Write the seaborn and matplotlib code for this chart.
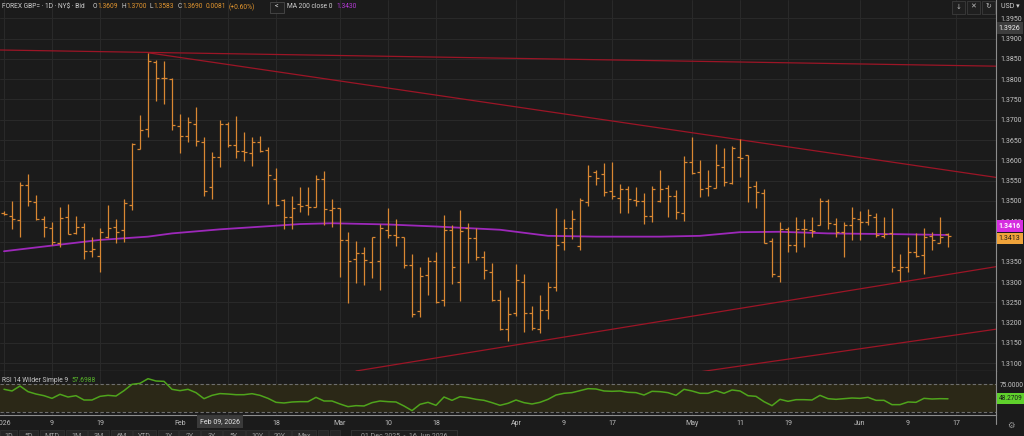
import numpy as np
import pandas as pd
import matplotlib
matplotlib.use("Agg")
import matplotlib.pyplot as plt
from matplotlib.lines import Line2D
from matplotlib.patches import Rectangle
import seaborn as sns

# GBP= daily bars, 1 Jan 2026 - 16 Jun 2026 (weekdays)
dates = pd.bdate_range("2026-01-01", "2026-06-16")

opens = [1.3471, 1.3463, 1.3452, 1.3539, 1.3497, 1.3455, 1.3433, 1.3396, 1.3460, 1.3420,
         1.3435, 1.3376, 1.3364, 1.3412, 1.3435, 1.3428, 1.3491, 1.3627, 1.3678, 1.3842,
         1.3802, 1.3800, 1.3685, 1.3661, 1.3690, 1.3645, 1.3534, 1.3609, 1.3689, 1.3637,
         1.3622, 1.3617, 1.3645, 1.3626, 1.3553, 1.3502, 1.3460, 1.3493, 1.3490, 1.3484,
         1.3553, 1.3478, 1.3482, 1.3403, 1.3356, 1.3371, 1.3349, 1.3353, 1.3428, 1.3415,
         1.3410, 1.3341, 1.3228, 1.3317, 1.3353, 1.3255, 1.3428, 1.3300, 1.3433, 1.3408,
         1.3361, 1.3324, 1.3256, 1.3184, 1.3225, 1.3300, 1.3225, 1.3184, 1.3231, 1.3289,
         1.3398, 1.3433, 1.3388, 1.3497, 1.3571, 1.3566, 1.3525, 1.3508, 1.3529, 1.3502,
         1.3500, 1.3463, 1.3499, 1.3533, 1.3512, 1.3470, 1.3597, 1.3572, 1.3531, 1.3533,
         1.3583, 1.3545, 1.3608, 1.3612, 1.3537, 1.3519, 1.3401, 1.3315, 1.3430, 1.3392,
         1.3430, 1.3428, 1.3441, 1.3500, 1.3443, 1.3424, 1.3441, 1.3456, 1.3449, 1.3460,
         1.3414, 1.3422, 1.3330, 1.3337, 1.3375, 1.3366, 1.3414, 1.3397, 1.3419]
highs = [1.3474, 1.3500, 1.3546, 1.3566, 1.3515, 1.3464, 1.3448, 1.3484, 1.3493, 1.3463,
         1.3445, 1.3412, 1.3433, 1.3490, 1.3456, 1.3504, 1.3642, 1.3711, 1.3865, 1.3847,
         1.3845, 1.3803, 1.3714, 1.3706, 1.3731, 1.3657, 1.3620, 1.3700, 1.3695, 1.3710,
         1.3669, 1.3657, 1.3661, 1.3632, 1.3580, 1.3504, 1.3513, 1.3534, 1.3534, 1.3564,
         1.3574, 1.3505, 1.3483, 1.3424, 1.3402, 1.3386, 1.3412, 1.3443, 1.3482, 1.3456,
         1.3410, 1.3369, 1.3338, 1.3363, 1.3373, 1.3465, 1.3441, 1.3478, 1.3445, 1.3434,
         1.3377, 1.3347, 1.3281, 1.3264, 1.3345, 1.3320, 1.3241, 1.3268, 1.3300, 1.3482,
         1.3456, 1.3478, 1.3507, 1.3589, 1.3576, 1.3594, 1.3597, 1.3542, 1.3537, 1.3534,
         1.3519, 1.3537, 1.3575, 1.3539, 1.3527, 1.3611, 1.3657, 1.3601, 1.3576, 1.3640,
         1.3630, 1.3635, 1.3652, 1.3613, 1.3549, 1.3530, 1.3408, 1.3448, 1.3435, 1.3460,
         1.3455, 1.3461, 1.3507, 1.3505, 1.3457, 1.3449, 1.3484, 1.3475, 1.3480, 1.3470,
         1.3460, 1.3482, 1.3369, 1.3410, 1.3422, 1.3433, 1.3424, 1.3460, 1.3422]
lows = [1.3466, 1.3430, 1.3411, 1.3488, 1.3452, 1.3412, 1.3391, 1.3386, 1.3418, 1.3418,
        1.3358, 1.3363, 1.3326, 1.3408, 1.3397, 1.3400, 1.3478, 1.3627, 1.3658, 1.3746,
        1.3738, 1.3675, 1.3619, 1.3645, 1.3636, 1.3513, 1.3505, 1.3583, 1.3634, 1.3605,
        1.3599, 1.3586, 1.3620, 1.3493, 1.3488, 1.3430, 1.3431, 1.3472, 1.3465, 1.3484,
        1.3441, 1.3435, 1.3312, 1.3249, 1.3299, 1.3294, 1.3309, 1.3281, 1.3408, 1.3389,
        1.3334, 1.3215, 1.3215, 1.3268, 1.3248, 1.3241, 1.3295, 1.3254, 1.3348, 1.3355,
        1.3307, 1.3254, 1.3182, 1.3156, 1.3217, 1.3178, 1.3182, 1.3174, 1.3209, 1.3279,
        1.3378, 1.3406, 1.3378, 1.3488, 1.3539, 1.3513, 1.3504, 1.3470, 1.3471, 1.3488,
        1.3443, 1.3449, 1.3498, 1.3460, 1.3455, 1.3451, 1.3566, 1.3509, 1.3511, 1.3531,
        1.3537, 1.3542, 1.3558, 1.3498, 1.3482, 1.3396, 1.3312, 1.3300, 1.3373, 1.3373,
        1.3387, 1.3411, 1.3441, 1.3430, 1.3412, 1.3363, 1.3404, 1.3404, 1.3441, 1.3411,
        1.3408, 1.3326, 1.3303, 1.3326, 1.3361, 1.3320, 1.3379, 1.3396, 1.3387]
closes = [1.3469, 1.3455, 1.3539, 1.3499, 1.3455, 1.3435, 1.3398, 1.3457, 1.3419, 1.3435,
          1.3376, 1.3381, 1.3423, 1.3433, 1.3424, 1.3496, 1.3640, 1.3675, 1.3844, 1.3802,
          1.3802, 1.3687, 1.3661, 1.3695, 1.3648, 1.3525, 1.3608, 1.3690, 1.3637, 1.3622,
          1.3621, 1.3646, 1.3624, 1.3565, 1.3490, 1.3460, 1.3482, 1.3488, 1.3484, 1.3553,
          1.3480, 1.3482, 1.3404, 1.3353, 1.3371, 1.3355, 1.3410, 1.3433, 1.3415, 1.3410,
          1.3341, 1.3221, 1.3314, 1.3353, 1.3252, 1.3428, 1.3337, 1.3427, 1.3408, 1.3361,
          1.3330, 1.3256, 1.3184, 1.3221, 1.3304, 1.3223, 1.3188, 1.3231, 1.3289, 1.3392,
          1.3433, 1.3456, 1.3502, 1.3562, 1.3557, 1.3523, 1.3513, 1.3530, 1.3505, 1.3501,
          1.3464, 1.3530, 1.3530, 1.3512, 1.3472, 1.3597, 1.3570, 1.3529, 1.3537, 1.3589,
          1.3546, 1.3630, 1.3605, 1.3534, 1.3522, 1.3397, 1.3320, 1.3432, 1.3392, 1.3430,
          1.3430, 1.3427, 1.3500, 1.3445, 1.3424, 1.3441, 1.3457, 1.3449, 1.3465, 1.3416,
          1.3419, 1.3338, 1.3337, 1.3375, 1.3364, 1.3411, 1.3404, 1.3411, 1.3413]

# RSI 14 (Wilder), one value per bar
rsi = [65.5, 62.4, 71.4, 61.2, 56.9, 53.9, 49.1, 56.4, 51.5, 53.9,
       46.1, 46.1, 52.7, 54.5, 53.3, 63.0, 74.4, 76.2, 84.6, 80.4,
       79.8, 65.4, 63.0, 65.4, 59.4, 48.5, 54.5, 57.6988, 56.9, 55.7,
       55.7, 57.5, 54.5, 49.1, 41.9, 40.7, 42.5, 43.1, 43.1, 50.9,
       44.3, 44.3, 38.9, 34.1, 35.9, 35.3, 41.3, 44.3, 43.1, 42.5,
       35.3, 26.9, 38.3, 41.9, 36.5, 51.5, 45.5, 52.1, 50.3, 47.3,
       45.5, 41.3, 36.5, 40.1, 46.1, 41.3, 38.9, 41.9, 47.3, 55.1,
       58.2, 59.4, 63.0, 66.6, 66.0, 62.4, 61.8, 62.4, 60.0, 59.4,
       55.1, 61.8, 61.2, 59.4, 54.5, 65.4, 62.4, 58.2, 58.2, 63.0,
       58.2, 64.2, 62.4, 53.9, 52.7, 43.1, 35.9, 47.3, 43.7, 46.7,
       46.7, 46.1, 54.5, 48.5, 47.3, 48.5, 49.7, 49.1, 50.9, 45.5,
       45.5, 37.7, 37.7, 42.5, 41.9, 49.1, 47.9, 48.5, 48.2709]

# MA 200 close
ma_dates = ["2026-01-01", "2026-01-09", "2026-01-19", "2026-01-27", "2026-01-30",
            "2026-02-09", "2026-02-18", "2026-02-23", "2026-02-27", "2026-03-10",
            "2026-03-18", "2026-03-30", "2026-04-07", "2026-04-15", "2026-04-27",
            "2026-05-04", "2026-05-11", "2026-05-18", "2026-05-26", "2026-06-08",
            "2026-06-16"]
ma_values = [1.3376, 1.3390, 1.3404, 1.3412, 1.3420, 1.3430, 1.3439, 1.3443, 1.3445,
             1.3442, 1.3437, 1.3429, 1.3414, 1.3412, 1.3412, 1.3414, 1.3423, 1.3424,
             1.3420, 1.3418, 1.3416]

# drawn trend lines
trend_from = ["2025-12-31", "2026-01-27", "2026-03-04", "2026-05-04"]
trend_from_px = [1.3872, 1.3865, 1.3081, 1.3079]
trend_to = ["2026-06-24", "2026-06-24", "2026-06-24", "2026-06-24"]
trend_to_px = [1.3832, 1.3558, 1.3338, 1.3184]

tick_dates = ["2026-01-01", "2026-01-09", "2026-01-19", "2026-02-02", "2026-02-10",
              "2026-02-18", "2026-03-02", "2026-03-10", "2026-03-18", "2026-04-01",
              "2026-04-09", "2026-04-17", "2026-05-01", "2026-05-11", "2026-05-19",
              "2026-06-01", "2026-06-09", "2026-06-17"]
tick_labels = ["2026", "9", "19", "Feb", "", "18", "Mar", "10", "18", "Apr",
               "9", "17", "May", "11", "19", "Jun", "9", "17"]
buttons = ["1D", "5D", "MTD", "1M", "3M", "6M", "YTD", "1Y", "2Y", "3Y", "5Y", "10Y", "20Y", "Max"]

hover = 27  # crosshair bar, Feb 09 2026
hover_chg = "0.0081"
hover_pct = "(+0.60%)"

BG = "#1b1b1b"
GRID = "#2a2a2a"
SEP = "#8c8c8c"
TXT = "#c8c8c8"
BAR = "#d98732"
RED = "#9c1526"
MA = "#9d28ba"
GREEN = "#4fa41c"
ORANGE_TXT = "#e3962f"

W, H = 1024, 436


def pos(d):
    return int(np.busday_count("2026-01-01", d))


def frac(x, y):
    return x / W, 1 - y / H


sns.set_theme(style="dark", rc={"figure.facecolor": BG, "axes.facecolor": BG,
                                "axes.edgecolor": SEP, "grid.color": GRID,
                                "text.color": TXT, "xtick.color": TXT, "ytick.color": TXT})
plt.rcParams['font.family'] = ['Roboto', 'DejaVu Sans']

df = pd.DataFrame({"date": dates, "open": opens, "high": highs, "low": lows, "close": closes})
df["x"] = np.arange(len(df))

fig = plt.figure(figsize=(W / 100, H / 100), dpi=100)
ax = fig.add_axes([0, 1 - 371 / H, 996 / W, 371 / H])
rax = fig.add_axes([0, 1 - 415 / H, 996 / W, 44 / H])

tick_x = [pos(d) for d in tick_dates]

# main price panel
ax.grid(True, color=GRID, lw=0.7)
for f, fp, t, tp in zip(trend_from, trend_from_px, trend_to, trend_to_px):
    ax.plot([pos(f), pos(t)], [fp, tp], color=RED, lw=0.9, zorder=2)
sns.lineplot(x=[pos(d) for d in ma_dates], y=ma_values, ax=ax, color=MA, lw=1.3, zorder=3)
ax.vlines(df["x"], df["low"], df["high"], color=BAR, lw=0.9, zorder=4)
ax.hlines(df["open"], df["x"] - 0.42, df["x"], color=BAR, lw=0.9, zorder=4)
ax.hlines(df["close"], df["x"], df["x"] + 0.42, color=BAR, lw=0.9, zorder=4)

ax.set_xlim(-0.5, 124)
ax.set_ylim(1.3081, 1.3995)
ax.set_xticks(tick_x)
yt = np.round(np.arange(1.3100, 1.3951, 0.005), 4)
ax.set_yticks(yt)
ax.set_yticklabels([f"{v:.4f}" for v in yt])
ax.yaxis.tick_right()
ax.tick_params(axis="y", length=0, pad=3.5, labelsize=5, labelcolor=TXT)
ax.tick_params(axis="x", length=0, labelbottom=False)
ax.set_xlabel("")
ax.set_ylabel("")
for s in ["top", "left"]:
    ax.spines[s].set_visible(False)
for s in ["right", "bottom"]:
    ax.spines[s].set_color(SEP)
    ax.spines[s].set_linewidth(0.8)

# price axis markers (they sit over the 1.3450 / 1.3400 labels, as on screen)
mark = dict(xycoords=("axes fraction", "data"), textcoords="offset points", ha="left",
            va="center", fontsize=5, annotation_clip=False)
ax.annotate("1.3926", xy=(1, 1.3926), xytext=(2, 0), color="#f0f0f0",
            bbox=dict(boxstyle="square,pad=0.3", fc="#3d3d3d", ec="none"), **mark)
ax.annotate(f"{ma_values[-1]:.4f}", xy=(1, ma_values[-1]), xytext=(2, 6.2), color="white",
            fontweight="bold", bbox=dict(boxstyle="square,pad=0.3", fc="#d62ee0", ec="none"), **mark)
ax.annotate(f"{closes[-1]:.4f}", xy=(1, closes[-1]), xytext=(2, -1.8), color="#1b1b1b",
            bbox=dict(boxstyle="square,pad=0.3", fc="#f0a33a", ec="none"), **mark)

# RSI panel
rax.grid(True, axis="x", color=GRID, lw=0.7)
rax.axhspan(25, 75, color="#2b2817", lw=0, zorder=1)
rax.axhline(75, color="#6e6e6e", lw=0.8, ls=(0, (3, 2)), zorder=2)
rax.axhline(25, color="#6e6e6e", lw=0.8, ls=(0, (3, 2)), zorder=2)
sns.lineplot(x=df["x"], y=rsi, ax=rax, color=GREEN, lw=1.1, zorder=3)
rax.set_xlim(-0.5, 124)
rax.set_ylim(19, 98.5)
rax.set_xticks(tick_x)
rax.set_xticklabels(tick_labels)
rax.set_yticks([75])
rax.set_yticklabels(["75.0000"])
rax.yaxis.tick_right()
rax.tick_params(axis="y", length=0, pad=3, labelsize=4.7, labelcolor=TXT)
rax.tick_params(axis="x", length=0, pad=3.5, labelsize=5, labelcolor="#bdbdbd")
rax.set_xlabel("")
rax.set_ylabel("")
for s in ["top", "left"]:
    rax.spines[s].set_visible(False)
for s in ["right", "bottom"]:
    rax.spines[s].set_color(SEP)
    rax.spines[s].set_linewidth(0.8)
rax.annotate(f"{rsi[-1]:.4f}", xy=(1, rsi[-1]), xytext=(2, 0), color="#1b1b1b",
             bbox=dict(boxstyle="square,pad=0.3", fc="#5fd12c", ec="none"),
             **dict(mark, fontsize=4.7))

fig.add_artist(Line2D([996 / W, 996 / W], [1 - 415 / H, 1 - 424 / H], color=SEP, lw=0.8))

# header, laid out left to right
renderer = fig.canvas.get_renderer()


def chain(x, y, parts, size=4.8):
    for txt, col, gap in parts:
        t = fig.text(*frac(x, y), txt, color=col, fontsize=size, ha="left", va="center")
        x += t.get_window_extent(renderer=renderer).width + gap
    return x


head = [("FOREX GBP= · 1D · NY$ · Bid", "#cfcfcf", 8)]
for lbl, val in zip(["O", "H", "L", "C"],
                    [opens[hover], highs[hover], lows[hover], closes[hover]]):
    head += [(lbl, "#cfcfcf", 0.5), (f"{val:.4f}", ORANGE_TXT, 3)]
head += [(hover_chg, ORANGE_TXT, 2.5), (hover_pct, ORANGE_TXT, 0)]
chain(2, 7, head)

fig.add_artist(Rectangle(frac(270, 13), 14 / W, 11 / H, fc="#1f1f1f", ec="#4a4a4a", lw=0.6))
fig.text(*frac(277, 7), "<", color="#dddddd", fontsize=5.2, ha="center", va="center")
chain(287, 7, [("MA 200 close 0", "#cfcfcf", 4), (f"{ma_values[5]:.4f}", "#b63ad8", 0)])

# top-right tools
for bx, sym in zip([952, 967, 982], ["↓", "✕", "↻"]):
    fig.add_artist(Rectangle(frac(bx, 14), 13 / W, 13 / H, fc="#1f1f1f", ec="#3c3c3c", lw=0.6))
    fig.text(*frac(bx + 6.5, 7), sym, color="#bbbbbb", fontsize=5, ha="center", va="center")
fig.text(*frac(1001, 7), "USD ▾", color="#cfcfcf", fontsize=5, ha="left", va="center")

# RSI caption
chain(2, 380, [("RSI 14 Wilder Simple 9", "#c8c8c8", 3), (f"{rsi[hover]:.4f}", "#58b52a", 0)])

# crosshair date
fig.text(*frac(220, 421.5), dates[hover].strftime("%b %d, %Y"), color="#e6e6e6", fontsize=5,
         ha="center", va="center", bbox=dict(boxstyle="square,pad=0.45", fc="#3a3a3a", ec="none"))

# bottom toolbar (cut by the frame)
bx = [0, 19, 40, 66, 88, 111, 133, 158, 179, 201, 223, 246, 269, 292]
bw = [17, 19, 24, 21, 21, 21, 23, 20, 21, 21, 22, 22, 22, 24]
for x0, w0, lbl in zip(bx, bw, buttons):
    fig.add_artist(Rectangle(frac(x0, 437), w0 / W, 7 / H, fc="#262626", ec="#333333", lw=0.5))
    fig.text(*frac(x0 + w0 / 2, 436.5), lbl, color="#9a9a9a", fontsize=5, ha="center", va="center")
fig.add_artist(Rectangle(frac(318, 437), 10 / W, 7 / H, fc="#262626", ec="#333333", lw=0.5))
fig.add_artist(Rectangle(frac(330, 437), 10 / W, 7 / H, fc="#262626", ec="#333333", lw=0.5))
fig.add_artist(Rectangle(frac(351, 437), 106 / W, 7 / H, fc="#1e1e1e", ec="#3a3a3a", lw=0.5))
fig.text(*frac(404, 436.5), "01 Dec 2025  -  16 Jun 2026", color="#9a9a9a", fontsize=5,
         ha="center", va="center")
fig.text(*frac(1011, 426), "⚙", color="#9a9a9a", fontsize=6, ha="center", va="center")

fig.savefig("out.png", dpi=100, facecolor=BG)
